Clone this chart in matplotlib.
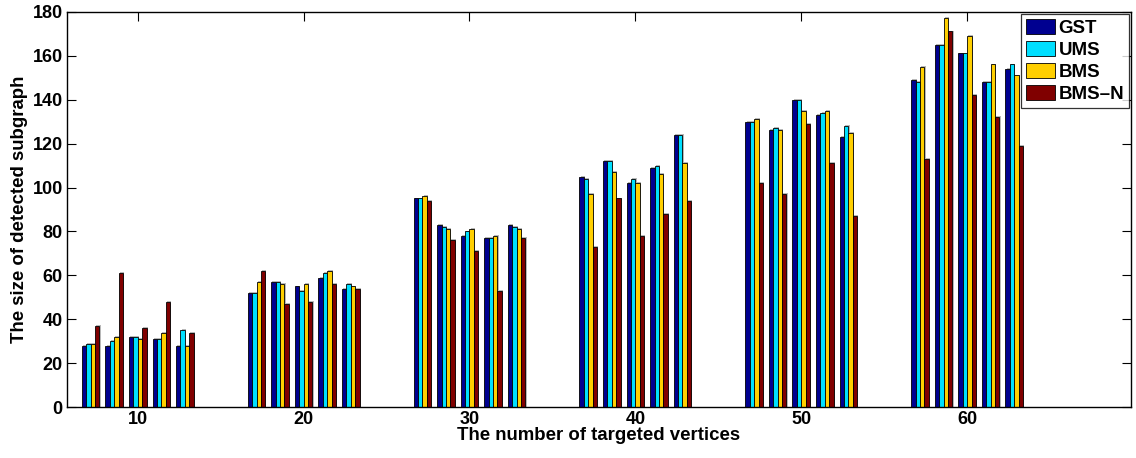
import matplotlib
matplotlib.use("Agg")

import numpy as np
import matplotlib.pyplot as plt

plt.rcParams["font.family"] = ["Liberation Sans", "DejaVu Sans"]
plt.rcParams["font.weight"] = "bold"

targets = [10, 20, 30, 40, 50, 60]
methods = ["GST", "UMS", "BMS", "BMS\u2013N"]
colors = ["#000090", "#00DFFF", "#FFCF00", "#800000"]

# five runs per target size, one value per run
gst = [[28, 28, 32, 31, 28],
       [52, 57, 55, 59, 54],
       [95, 83, 78, 77, 83],
       [105, 112, 102, 109, 124],
       [130, 126, 140, 133, 123],
       [149, 165, 161, 148, 154]]
ums = [[29, 30, 32, 31, 35],
       [52, 57, 53, 61, 56],
       [95, 82, 80, 77, 82],
       [104, 112, 104, 110, 124],
       [130, 127, 140, 134, 128],
       [148, 165, 161, 148, 156]]
bms = [[29, 32, 31, 34, 28],
       [57, 56, 56, 62, 55],
       [96, 81, 81, 78, 81],
       [97, 107, 102, 106, 111],
       [131, 126, 135, 135, 125],
       [155, 177, 169, 156, 151]]
bms_n = [[37, 61, 36, 48, 34],
         [62, 47, 48, 56, 54],
         [94, 76, 71, 53, 77],
         [73, 95, 78, 88, 94],
         [102, 97, 129, 111, 87],
         [113, 171, 142, 132, 119]]

series = [gst, ums, bms, bms_n]

run_step = 1.42      # spacing between the five runs of one target size
bar_w = 0.265        # width of a single method bar
run_off = (np.arange(5) - 2) * run_step

fig = plt.figure(figsize=(11.36, 4.58), dpi=100)
ax = fig.add_axes([0.0589, 0.1107, 0.9367, 0.8638])

for m, (vals, col) in enumerate(zip(series, colors)):
    vals = np.asarray(vals, dtype=float)
    xs = (np.asarray(targets)[:, None] + run_off[None, :]
          + (m - 1.5) * bar_w).ravel()
    hs = vals.ravel()
    # soft gray drop shadow behind each bar
    ax.bar(xs + 0.07, hs + 0.4, width=bar_w, color="#b8b8b8",
           edgecolor="none", zorder=1)
    ax.bar(xs, hs, width=bar_w, color=col, edgecolor="black",
           linewidth=0.6, zorder=2, label=methods[m])

ax.set_xlim(5.73, 69.88)
ax.set_ylim(0, 180)
ax.set_xticks(targets)
ax.set_yticks(np.arange(0, 181, 20))

ax.tick_params(direction="in", length=6.5, width=0.8, labelsize=13,
               top=True, right=True, pad=3)
for lab in ax.get_xticklabels() + ax.get_yticklabels():
    lab.set_fontweight("bold")
for sp in ax.spines.values():
    sp.set_linewidth(1.0)

ax.set_xlabel("The number of targeted vertices", fontsize=13.4,
              fontweight="bold", labelpad=-1)
ax.set_ylabel("The size of detected subgraph", fontsize=13.4,
              fontweight="bold", labelpad=3)

leg = ax.legend(loc="upper right", fontsize=13.5, frameon=True, fancybox=False,
                edgecolor="black", borderaxespad=0.12, handlelength=1.55,
                handleheight=0.9, labelspacing=0.2, handletextpad=0.2,
                borderpad=0.25)
leg.get_frame().set_linewidth(0.9)
for t in leg.get_texts():
    t.set_fontweight("bold")

fig.savefig("out.png", dpi=100)
